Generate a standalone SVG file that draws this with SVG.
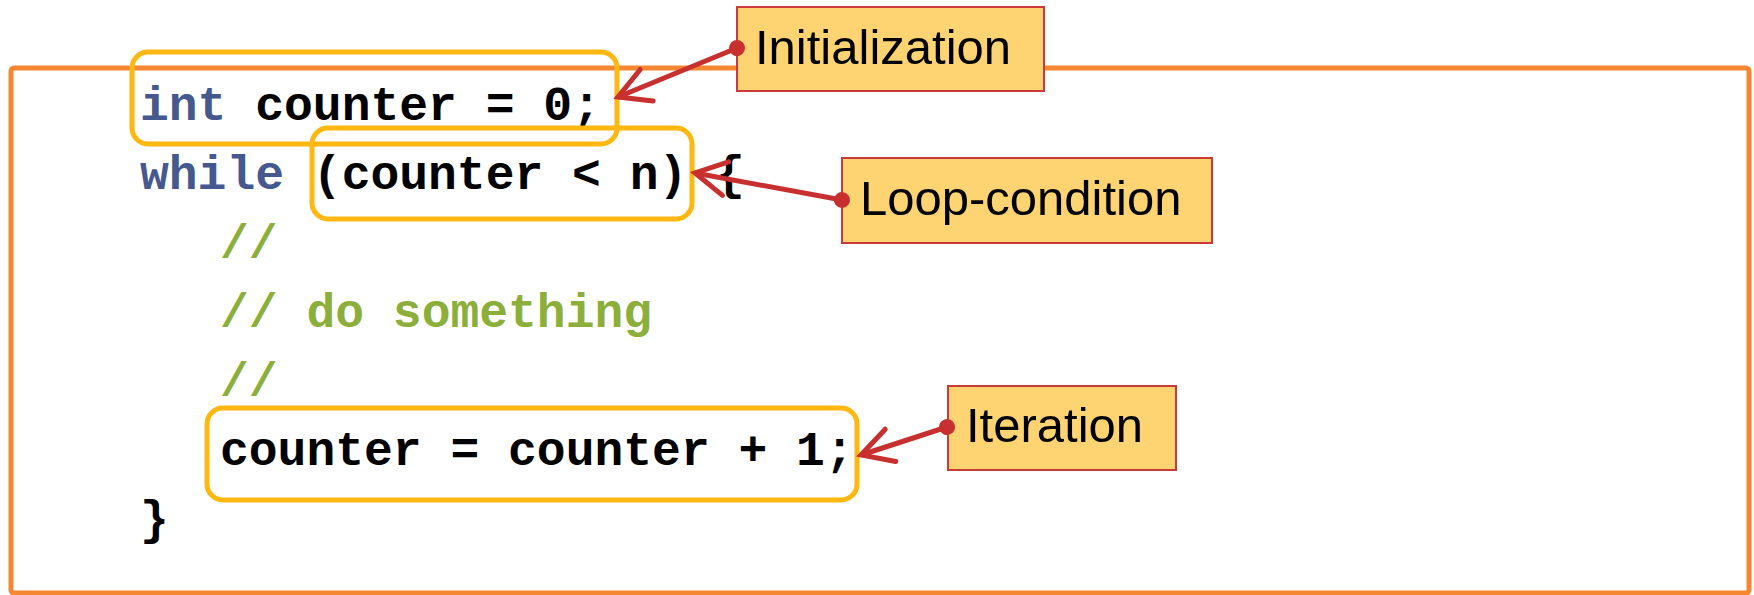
<svg xmlns="http://www.w3.org/2000/svg" width="1754" height="595" viewBox="0 0 1754 595">
<style>
.code{font-family:"Liberation Mono","Courier New",monospace;font-weight:bold;font-size:48px;fill:#000}
.kw{fill:#45598F}
.cm{fill:#8BAF3A}
.hl{fill:none;stroke:#FFB812;stroke-width:5}
.callout rect{fill:#FDD471;stroke:#CB3A3A;stroke-width:2}
.callout text{font-family:"Liberation Sans",Arial,sans-serif;font-size:49px;fill:#000}
.conn{fill:none;stroke:#C8302F;stroke-width:5;marker-start:url(#dot);marker-end:url(#chev)}
</style>
<defs>
<marker id="chev" markerUnits="userSpaceOnUse" viewBox="-40 -25 50 50" refX="0" refY="0" markerWidth="50" markerHeight="50" orient="auto" overflow="visible">
<path d="M-31,-17 L0,0 L-31,17" fill="none" stroke="#C8302F" stroke-width="5" stroke-linecap="round" stroke-linejoin="miter"/>
</marker>
<marker id="dot" markerUnits="userSpaceOnUse" viewBox="-10 -10 20 20" refX="0" refY="0" markerWidth="20" markerHeight="20" orient="auto" overflow="visible">
<circle cx="0" cy="0" r="8" fill="#C8302F"/>
</marker>
</defs>
<rect width="1754" height="595" fill="#fff"/>
<g id="frame">
<rect x="11" y="68" width="1738" height="525" rx="3" fill="none" stroke="#F58732" stroke-width="5"/>
</g>
<g id="code">
<text class="code" x="140" y="120"><tspan class="kw">int</tspan> counter = 0;</text>
<text class="code" x="140" y="189" xml:space="preserve"><tspan class="kw">while</tspan> (counter &lt; n) {</text>
<text class="code cm" x="220" y="258">//</text>
<text class="code cm" x="220" y="327" xml:space="preserve">// do something</text>
<text class="code cm" x="220" y="396">//</text>
<text class="code" x="220" y="465">counter = counter + 1;</text>
<text class="code" x="140" y="534">}</text>
</g>
<g id="highlight-init"><rect class="hl" x="132" y="52" width="485" height="92" rx="16"/></g>
<g id="highlight-cond"><rect class="hl" x="312" y="128" width="380" height="91" rx="16"/></g>
<g id="highlight-iter"><rect class="hl" x="207" y="408" width="650" height="92" rx="16"/></g>
<g id="callout-init" class="callout">
<rect x="737" y="7" width="307" height="84"/>
<text x="755" y="64">Initialization</text>
</g>
<g id="callout-cond" class="callout">
<rect x="842" y="158" width="370" height="85"/>
<text x="860" y="215">Loop-condition</text>
</g>
<g id="callout-iter" class="callout">
<rect x="948" y="386" width="228" height="84"/>
<text x="966" y="442">Iteration</text>
</g>
<g id="connectors">
<path class="conn" d="M737,48 L618,97"/>
<path class="conn" d="M842,200 L695,173"/>
<path class="conn" d="M947,427 L861,455"/>
</g>
</svg>
